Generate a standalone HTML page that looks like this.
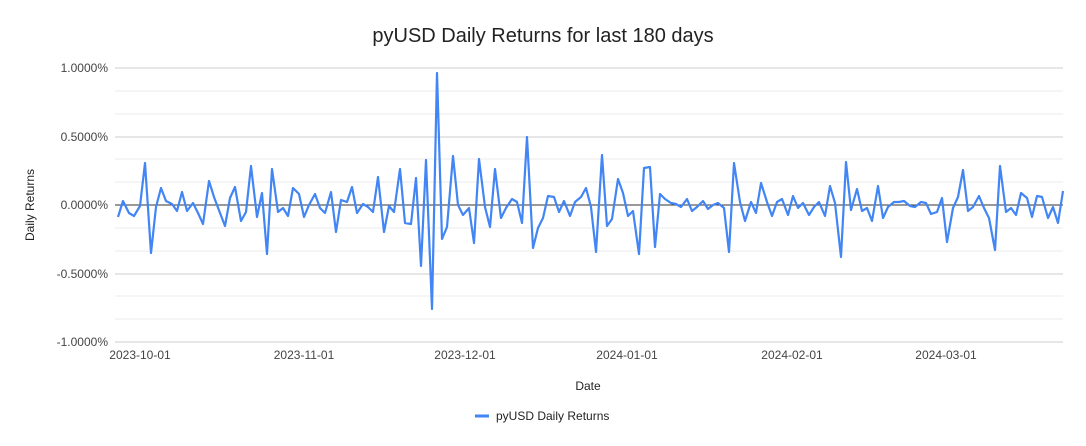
<!DOCTYPE html>
<html><head><meta charset="utf-8"><style>
body{margin:0;background:#fff;}
svg{display:block;font-family:"Liberation Sans",Arial,sans-serif;}
</style></head><body>
<svg width="1086" height="446" viewBox="0 0 1086 446">
<rect width="1086" height="446" fill="#fff"/>
<text x="543" y="42" text-anchor="middle" font-size="20" fill="#222">pyUSD Daily Returns for last 180 days</text>
<g stroke="#ebebeb" stroke-width="1">
<line x1="115" x2="1063" y1="91" y2="91"/><line x1="115" x2="1063" y1="114" y2="114"/>
<line x1="115" x2="1063" y1="159" y2="159"/><line x1="115" x2="1063" y1="182" y2="182"/>
<line x1="115" x2="1063" y1="228" y2="228"/><line x1="115" x2="1063" y1="251" y2="251"/>
<line x1="115" x2="1063" y1="296" y2="296"/><line x1="115" x2="1063" y1="319" y2="319"/>
</g>
<g stroke="#cccccc" stroke-width="1">
<line x1="115" x2="1063" y1="68" y2="68"/><line x1="115" x2="1063" y1="137" y2="137"/>
<line x1="115" x2="1063" y1="274" y2="274"/><line x1="115" x2="1063" y1="342" y2="342"/>
</g>
<line x1="115" x2="1063" y1="205" y2="205" stroke="#333" stroke-width="1"/>
<g font-size="12" fill="#444" text-anchor="end">
<text x="108" y="72">1.0000%</text><text x="108" y="141">0.5000%</text>
<text x="108" y="209">0.0000%</text><text x="108" y="278">-0.5000%</text>
<text x="108" y="346">-1.0000%</text>
</g>
<g font-size="12" fill="#444" text-anchor="middle">
<text x="140" y="359">2023-10-01</text><text x="304" y="359">2023-11-01</text>
<text x="465" y="359">2023-12-01</text><text x="627" y="359">2024-01-01</text>
<text x="792" y="359">2024-02-01</text><text x="946" y="359">2024-03-01</text>
</g>
<text x="588" y="390" font-size="12" fill="#222" text-anchor="middle">Date</text>
<text transform="translate(34,205) rotate(-90)" font-size="12" fill="#222" text-anchor="middle">Daily Returns</text>
<polyline fill="none" stroke="#4285f4" stroke-width="2.2" stroke-linejoin="round" points="118,217 123,201 129,213 134,216 140,206 145,163 151,253 156,207 161,188 166,201 172,204 177,211 182,192 187,211 193,203 198,213 203,224 209,181 214,197 220,213 225,226 230,198 235,187 241,221 246,212 251,166 257,217 262,193 267,254 272,169 278,212 283,208 288,216 293,188 299,194 304,217 309,205 315,194 320,208 325,213 331,192 336,232 341,200 347,202 352,187 357,213 363,204 368,207 373,212 378,177 384,232 389,206 394,212 400,169 405,223 411,224 416,178 421,266 426,160 432,309 437,73 442,239 447,227 453,156 458,205 463,215 469,208 474,243 479,159 485,207 490,227 495,169 501,218 506,208 512,199 517,202 522,223 527,137 533,248 538,228 543,218 548,196 554,197 559,212 564,201 570,216 575,202 581,197 586,188 591,207 596,252 602,155 607,226 612,219 618,179 623,193 628,216 633,211 639,254 644,168 650,167 655,247 660,194 665,199 671,203 676,204 681,207 687,199 692,211 697,207 703,201 708,209 713,205 718,203 724,208 729,252 734,163 740,202 745,221 751,202 756,213 761,183 767,202 772,216 777,202 782,199 788,215 793,196 798,208 803,203 809,215 814,207 819,202 825,216 830,186 835,203 841,257 846,162 851,210 857,189 862,211 867,208 872,221 878,186 883,218 888,207 894,202 899,202 904,201 910,206 915,207 921,202 926,203 931,214 937,212 942,198 947,242 953,208 958,197 963,170 968,211 973,207 979,196 984,208 989,218 995,250 1000,166 1006,212 1011,208 1016,215 1021,193 1027,198 1032,217 1037,196 1042,197 1048,218 1053,207 1058,223 1063,191"/>
<line x1="475" x2="489" y1="416" y2="416" stroke="#4285f4" stroke-width="3"/>
<text x="496" y="420" font-size="12" fill="#222">pyUSD Daily Returns</text>
</svg>
</body></html>
